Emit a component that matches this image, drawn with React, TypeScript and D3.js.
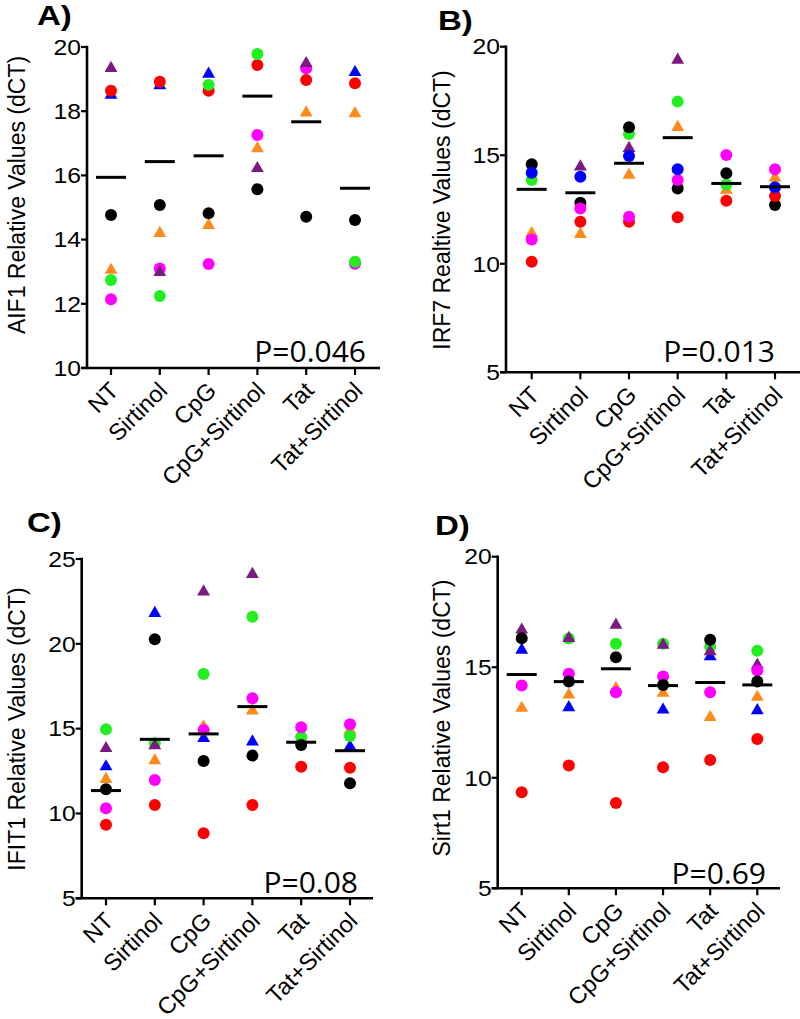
import React from "react";
import * as d3 from "d3";

// ---------- DATA ----------
const categories = ["NT", "Sirtinol", "CpG", "CpG+Sirtinol", "Tat", "Tat+Sirtinol"];
const seriesNames = ["purple", "blue", "orange", "red", "black", "green", "magenta"];

// AIF1 (panel A)
const aif1Purple = [19.34, 12.98, null, 16.22, 19.49, null];
const aif1Blue = [18.5, 18.8, 19.16, null, null, 19.21];
const aif1Orange = [13.05, 14.2, 14.45, 16.84, 17.95, 17.93];
const aif1Red = [18.64, 18.92, 18.64, 19.44, 18.97, 18.87];
const aif1Black = [14.77, 15.08, 14.82, 15.57, 14.71, 14.61];
const aif1Green = [12.74, 12.24, 18.82, 19.78, null, 13.31];
const aif1Magenta = [12.14, 13.1, 13.24, 17.26, 19.34, 13.25];
const aif1Means = [15.94, 16.43, 16.61, 18.47, 17.67, 15.6];
const aif1Ticks = [10, 12, 14, 16, 18, 20];

// IRF7 (panel B)
const irf7Purple = [null, 14.47, 15.32, 19.39, null, null];
const irf7Blue = [14.19, 14.01, 14.96, 14.35, null, 13.52];
const irf7Orange = [11.4, 11.36, 14.09, 16.29, 13.4, 13.96];
const irf7Red = [10.09, 11.94, 11.94, 12.14, 12.9, 13.12];
const irf7Black = [14.58, 12.81, 16.29, 13.47, 14.17, 12.71];
const irf7Green = [13.86, null, 15.98, 17.47, 13.65, null];
const irf7Magenta = [11.12, 12.55, 12.17, 13.86, 15.01, 14.35];
const irf7Means = [13.43, 13.27, 14.63, 15.81, 13.7, 13.55];
const irf7Ticks = [5, 10, 15, 20];

// IFIT1 (panel C)
const ifit1Purple = [13.84, 14.0, 23.07, 24.1, null, null];
const ifit1Blue = [12.76, 21.8, 14.43, 14.23, null, 13.94];
const ifit1Orange = [12.02, 13.12, 15.12, 16.06, 14.73, 14.9];
const ifit1Red = [9.33, 10.5, 8.84, 10.5, 12.76, 12.7];
const ifit1Black = [11.43, 20.27, 13.1, 13.41, 14.04, 11.78];
const ifit1Green = [14.96, 14.14, 18.22, 21.6, 14.5, 14.57];
const ifit1Magenta = [10.31, 11.98, 14.92, 16.79, 15.08, 15.26];
const ifit1Means = [11.35, 14.37, 14.69, 16.3, 14.2, 13.7];
const ifit1Ticks = [5, 10, 15, 20, 25];

// Sirt1 (panel D)
const sirt1Purple = [16.69, 16.31, 16.91, 16.0, 15.71, 15.1];
const sirt1Blue = [15.78, 13.18, null, 13.07, 15.48, 13.04];
const sirt1Orange = [13.15, 13.75, 14.05, 13.83, 12.74, 13.65];
const sirt1Red = [9.35, 10.56, 8.86, 10.48, 10.8, 11.75];
const sirt1Black = [16.31, 14.35, 15.45, 14.2, 16.24, 14.35];
const sirt1Green = [null, 16.3, 16.06, 16.06, 15.93, 15.75];
const sirt1Magenta = [14.17, 14.7, 13.87, 14.58, 13.87, 14.85];
const sirt1Means = [14.67, 14.35, 14.93, 14.17, 14.31, 14.2];
const sirt1Ticks = [5, 10, 15, 20];

// ---------- STYLE ----------
const colors: Record<string, string> = {
  purple: "#7B1B82",
  blue: "#0000FF",
  orange: "#FF8A1C",
  red: "#FF0000",
  black: "#000000",
  green: "#22EE22",
  magenta: "#FF00FF",
};

type Panel = {
  letter: string;
  ylabel: string;
  series: Record<string, (number | null)[]>;
  means: number[];
  ticks: number[];
  pText: string;
  axisX: number;
  top: number;
  bottom: number;
  cat0: number;
  cat5: number;
  axisEnd: number;
  pRight: number;
  pBase: number;
  letterX: number;
  letterBase: number;
  ylabX: number;
  ylabY: number;
  circleSeries: string[];
  order: string[];
};

const panels: Panel[] = [
  {
    letter: "A)",
    ylabel: "AIF1 Relative Values (dCT)",
    series: { purple: aif1Purple, blue: aif1Blue, orange: aif1Orange, red: aif1Red, black: aif1Black, green: aif1Green, magenta: aif1Magenta },
    means: aif1Means,
    ticks: aif1Ticks,
    pText: "P=0.046",
    axisX: 87, top: 47, bottom: 368, cat0: 111, cat5: 355, axisEnd: 380,
    pRight: 366, pBase: 361.5,
    letterX: 37, letterBase: 25,
    ylabX: 25, ylabY: 195,
    circleSeries: ["red", "black", "green", "magenta"],
    order: ["blue", "orange", "magenta", "red", "green", "black", "purple"],
  },
  {
    letter: "B)",
    ylabel: "IRF7 Realtive Values (dCT)",
    series: { purple: irf7Purple, blue: irf7Blue, orange: irf7Orange, red: irf7Red, black: irf7Black, green: irf7Green, magenta: irf7Magenta },
    means: irf7Means,
    ticks: irf7Ticks,
    pText: "P=0.013",
    axisX: 506, top: 46.7, bottom: 372.3, cat0: 531.7, cat5: 775, axisEnd: 800,
    pRight: 775, pBase: 361.7,
    letterX: 438, letterBase: 30,
    ylabX: 450, ylabY: 210,
    circleSeries: ["blue", "red", "black", "green", "magenta"],
    order: ["purple", "orange", "green", "black", "red", "magenta", "blue"],
  },
  {
    letter: "C)",
    ylabel: "IFIT1 Relative Values (dCT)",
    series: { purple: ifit1Purple, blue: ifit1Blue, orange: ifit1Orange, red: ifit1Red, black: ifit1Black, green: ifit1Green, magenta: ifit1Magenta },
    means: ifit1Means,
    ticks: ifit1Ticks,
    pText: "P=0.08",
    axisX: 81.7, top: 559, bottom: 898.3, cat0: 106, cat5: 350, axisEnd: 373,
    pRight: 358, pBase: 892.5,
    letterX: 27, letterBase: 532,
    ylabX: 25, ylabY: 729,
    circleSeries: ["red", "black", "green", "magenta"],
    order: ["orange", "blue", "green", "magenta", "red", "purple", "black"],
  },
  {
    letter: "D)",
    ylabel: "Sirt1 Relative Values (dCT)",
    series: { purple: sirt1Purple, blue: sirt1Blue, orange: sirt1Orange, red: sirt1Red, black: sirt1Black, green: sirt1Green, magenta: sirt1Magenta },
    means: sirt1Means,
    ticks: sirt1Ticks,
    pText: "P=0.69",
    axisX: 497.7, top: 556.7, bottom: 888.3, cat0: 521.7, cat5: 757.3, axisEnd: 780,
    pRight: 766, pBase: 884,
    letterX: 435, letterBase: 535,
    ylabX: 450, ylabY: 718,
    circleSeries: ["red", "black", "green", "magenta"],
    order: ["orange", "blue", "green", "purple", "magenta", "red", "black"],
  },
];

const FONT = "'Liberation Sans', Arial, Helvetica, sans-serif";
const STRETCH = 1.15;
const triPath = d3.symbol().type(d3.symbolTriangle).size(72)() as string;

function PanelView({ p }: { p: Panel }) {
  const y = d3.scaleLinear().domain([p.ticks[0], p.ticks[p.ticks.length - 1]]).range([p.bottom, p.top]);
  const x = d3.scalePoint<string>().domain(categories).range([p.cat0, p.cat5]);
  const axisW = 2.6;
  const marks: React.ReactNode[] = [];
  p.order.forEach((s) => {
    const vals = p.series[s];
    vals.forEach((v, i) => {
      if (v == null) return;
      const cx = x(categories[i]) as number;
      const cy = y(v);
      const key = `${s}-${i}`;
      if (p.circleSeries.includes(s)) {
        marks.push(<circle key={key} cx={cx} cy={cy} r={6} fill={colors[s]} />);
      } else {
        marks.push(<path key={key} d={triPath} transform={`translate(${cx},${cy})`} fill={colors[s]} />);
      }
    });
  });
  return (
    <g>
      <text
        transform={`translate(${p.letterX},${p.letterBase}) scale(1.18,1)`}
        fontFamily={FONT}
        fontWeight="bold"
        fontSize={28}
      >{p.letter}</text>
      <text
        transform={`translate(${p.ylabX},${p.ylabY}) rotate(-90)`}
        textAnchor="middle"
        fontFamily={FONT}
        fontSize={23}
      >{p.ylabel}</text>
      {/* y axis */}
      <line x1={p.axisX} x2={p.axisX} y1={p.top - axisW / 2} y2={p.bottom} stroke="#000" strokeWidth={axisW} />
      {p.ticks.map((t) => (
        <g key={t}>
          <line x1={p.axisX - 6} x2={p.axisX} y1={y(t)} y2={y(t)} stroke="#000" strokeWidth={2.2} />
          <text
            transform={`translate(${p.axisX - 6},${y(t)}) scale(${STRETCH},1)`}
            dy="0.36em"
            textAnchor="end"
            fontFamily={FONT}
            fontSize={21.5}
          >{t}</text>
        </g>
      ))}
      {/* x axis */}
      <line x1={p.axisX - 6} x2={p.axisEnd} y1={p.bottom} y2={p.bottom} stroke="#000" strokeWidth={axisW} />
      {categories.map((c) => {
        const cx = x(c) as number;
        return (
          <g key={c}>
            <line x1={cx} x2={cx} y1={p.bottom} y2={p.bottom + 7} stroke="#000" strokeWidth={2.2} />
            <text
              transform={`translate(${cx + 9},${p.bottom + 24}) rotate(-45)`}
              textAnchor="end"
              fontFamily={FONT}
              fontSize={23.5}
            >{c}</text>
          </g>
        );
      })}
      {marks}
      {p.means.map((m, i) => {
        const cx = x(categories[i]) as number;
        return <line key={`m${i}`} x1={cx - 15} x2={cx + 15} y1={y(m)} y2={y(m)} stroke="#000" strokeWidth={3} />;
      })}
      <text x={p.pRight} y={p.pBase} textAnchor="end" fontFamily="'Open Sans', sans-serif" fontSize={30}>{p.pText}</text>
    </g>
  );
}

export default function App() {
  return (
    <svg width={800} height={1019} style={{ position: "absolute", left: 0, top: 0, background: "#fff" }}>
      <rect width={800} height={1019} fill="#fff" />
      {panels.map((p) => (
        <PanelView key={p.letter} p={p} />
      ))}
    </svg>
  );
}
